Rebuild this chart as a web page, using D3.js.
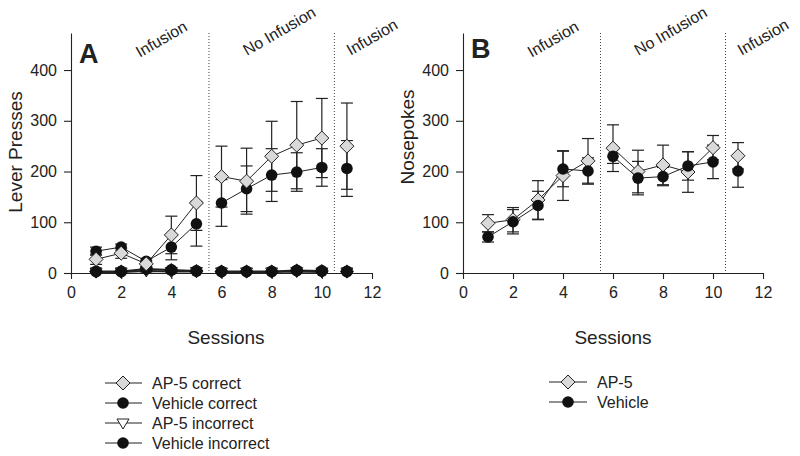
<!DOCTYPE html>
<html><head><meta charset="utf-8">
<script src="https://cdn.jsdelivr.net/npm/d3@7"></script>
<style>body{margin:0;background:#fff}svg{display:block}text{font-family:Arial,"Liberation Sans",sans-serif;fill:#222}</style>
</head><body><svg id="c" width="800" height="456"></svg>
<script>
const sessions = [1,2,3,4,5,6,7,8,9,10,11];
// Panel A: lever presses
const ap5Correct      = [27, 39, 18, 75, 138, 190, 181, 230, 252, 266, 250];
const ap5CorrectErr   = [10, 10, 6, 37, 54, 60, 65, 69, 86, 78, 85];
const vehCorrect      = [43, 51, 23, 51, 97, 138, 166, 193, 199, 208, 206];
const vehCorrectErr   = [8, 6, 5, 25, 44, 46, 45, 52, 38, 37, 55];
const ap5Incorrect    = [2, 2, 4, 3, 3, 2, 2, 2, 3, 2, 2];
const ap5IncorrectErr = [1, 1, 2, 2, 1, 1, 1, 1, 2, 1, 1];
const vehIncorrect    = [3, 3, 8, 6, 4, 3, 3, 3, 5, 4, 3];
const vehIncorrectErr = [1, 1, 3, 3, 2, 1, 1, 1, 2, 2, 1];
// Panel B: nosepokes
const ap5Nose         = [98, 105, 144, 192, 221, 246, 200, 213, 199, 247, 231];
const ap5NoseErr      = [17, 24, 38, 49, 44, 46, 42, 39, 40, 24, 26];
const vehNose         = [71, 101, 133, 205, 201, 230, 187, 190, 211, 219, 201];
const vehNoseErr      = [10, 24, 28, 35, 26, 14, 33, 18, 28, 33, 32];
const yTicks = [0, 100, 200, 300, 400];
const xTicks = [0, 2, 4, 6, 8, 10, 12];
const phaseLabels = ["Infusion", "No Infusion", "Infusion"];
const legendA = ["AP-5 correct", "Vehicle correct", "AP-5 incorrect", "Vehicle incorrect"];
const legendB = ["AP-5", "Vehicle"];
const segments = [[0,5],[5,10],[10,11]]; // index ranges joined by lines

const svg = d3.select("#c");
const y = d3.scaleLinear().domain([0, 473]).range([273, 33]);

function marker(g, type, cx, cy) {
  if (type === "diamond") {
    g.append("path").attr("d", `M${cx},${cy-7}L${cx+7},${cy}L${cx},${cy+7}L${cx-7},${cy}Z`)
      .attr("fill", "#d9d9d9").attr("stroke", "#222").attr("stroke-width", 1);
  } else if (type === "circle") {
    g.append("circle").attr("cx", cx).attr("cy", cy).attr("r", 5.8).attr("fill", "#111");
  } else if (type === "tri") {
    g.append("path").attr("d", `M${cx-6},${cy-4}L${cx+6},${cy-4}L${cx},${cy+6}Z`)
      .attr("fill", "#fff").attr("stroke", "#222").attr("stroke-width", 1);
  } else if (type === "hex") {
    g.append("path").attr("d", d3.symbol(d3.symbolCircle, 110)()).attr("transform", `translate(${cx},${cy})`).attr("fill", "#111");
    g.append("path").attr("d", `M${cx},${cy-7}L${cx+7},${cy}L${cx},${cy+7}L${cx-7},${cy}Z`).attr("fill", "#111");
  }
}

function panel(x0, x1, letter, yTitle, series, sessionsTitleX) {
  const x = d3.scaleLinear().domain([0, 12]).range([x0, x1]);
  const g = svg.append("g");
  const ya = g.append("g").attr("transform", `translate(${x0},0)`)
    .call(d3.axisLeft(y).tickValues(yTicks).tickSize(7).tickPadding(7).tickSizeOuter(0));
  const xa = g.append("g").attr("transform", `translate(0,273)`)
    .call(d3.axisBottom(x).tickValues(xTicks).tickSize(6).tickPadding(8).tickSizeOuter(0));
  [ya, xa].forEach(a => {
    a.selectAll("path,line").attr("stroke", "#222").attr("stroke-width", 1.1);
    a.selectAll("text").style("font-size", "16px").attr("fill", "#222");
  });
  xa.select(".domain").attr("d", `M${x0-5},0.5H${x1}`);
  [5.5, 10.5].forEach(v => {
    g.append("line").attr("x1", x(v)).attr("x2", x(v)).attr("y1", 33).attr("y2", 272)
      .attr("stroke", "#444").attr("stroke-width", 1).attr("stroke-dasharray", "1,2");
  });
  const phasePos = [[x(3.6), 39], [x(8.3), 31], [x(12.0), 37]];
  phaseLabels.forEach((t, i) => {
    g.append("text").attr("transform", `translate(${phasePos[i][0]},${phasePos[i][1]}) rotate(-30)`)
      .attr("text-anchor", "middle").attr("dy", "0.35em").style("font-size", "16px").text(t);
  });
  g.append("text").attr("x", x0 + 8).attr("y", letter === "A" ? 63 : 58).style("font-size", "27px")
    .style("font-weight", "bold").attr("fill", "#111").text(letter);
  g.append("text").attr("transform", `translate(${x0 - 56},${letter === "A" ? 152 : 137}) rotate(-90)`)
    .attr("text-anchor", "middle").attr("dy", "0.35em").style("font-size", "19px").text(yTitle);
  g.append("text").attr("x", sessionsTitleX).attr("y", 344).attr("text-anchor", "middle")
    .style("font-size", "19px").text("Sessions");
  const line = d3.line().x(d => x(d[0])).y(d => y(d[1]));
  series.forEach(s => {
    const pts = sessions.map((t, i) => [t, s.values[i], s.err[i]]);
    segments.forEach(([a, b]) => {
      if (b - a > 1) g.append("path").attr("d", line(pts.slice(a, b))).attr("fill", "none")
        .attr("stroke", "#222").attr("stroke-width", s.lw || 1);
    });
  });
  series.forEach(s => {
    sessions.forEach((t, i) => {
      const cx = x(t), v = s.values[i], e = s.err[i];
      const yt = y(v + e), yb = y(Math.max(0, v - e));
      g.append("line").attr("x1", cx).attr("x2", cx).attr("y1", yt).attr("y2", yb).attr("stroke", "#222").attr("stroke-width", 1.2);
      [yt, yb].forEach(yy => g.append("line").attr("x1", cx - 6).attr("x2", cx + 6).attr("y1", yy).attr("y2", yy)
        .attr("stroke", "#222").attr("stroke-width", 1.2));
    });
  });
  series.forEach(s => {
    sessions.forEach((t, i) => marker(g, s.type, x(t), y(s.values[i])));
  });
}

panel(71, 372, "A", "Lever Presses", [
  {values: ap5Incorrect, err: ap5IncorrectErr, type: "tri", lw: 2},
  {values: vehIncorrect, err: vehIncorrectErr, type: "hex", lw: 2},
  {values: vehCorrect, err: vehCorrectErr, type: "circle"},
  {values: ap5Correct, err: ap5CorrectErr, type: "diamond"}
], 226);

panel(463, 763, "B", "Nosepokes", [
  {values: ap5Nose, err: ap5NoseErr, type: "diamond"},
  {values: vehNose, err: vehNoseErr, type: "circle"}
], 613);

function legend(x0, lx1, mx, tx, rows, labels, types) {
  labels.forEach((t, i) => {
    const yy = rows[i];
    svg.append("line").attr("x1", x0).attr("x2", lx1).attr("y1", yy).attr("y2", yy).attr("stroke", "#222").attr("stroke-width", 1.2);
    const g = svg.append("g");
    if (types[i] === "circle" || types[i] === "hex") {
      g.append("circle").attr("cx", mx).attr("cy", yy).attr("r", 5.8).attr("fill", "#111");
    } else marker(g, types[i], mx, yy);
    svg.append("text").attr("x", tx).attr("y", yy).attr("dy", "0.35em").style("font-size", "16px").text(t);
  });
}
legend(105, 142, 123, 152, [383, 403, 423, 443], legendA, ["diamond", "circle", "tri", "hex"]);
legend(549, 587, 568, 597, [382, 402], legendB, ["diamond", "circle"]);
</script></body></html>
